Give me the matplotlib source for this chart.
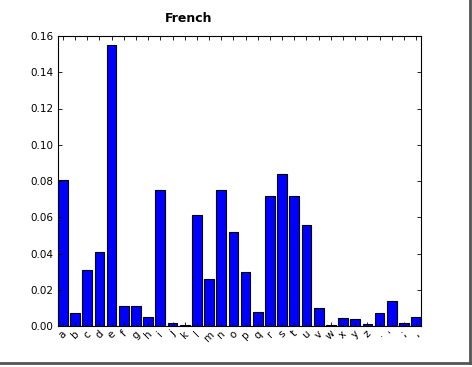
import matplotlib
matplotlib.use("Agg")
import matplotlib.pyplot as plt
from matplotlib.lines import Line2D

letters = list("abcdefghijklmnopqrstuvwxyz") + [".", "'", ";", ","]
freqs = [0.0805, 0.007, 0.031, 0.041, 0.155, 0.011, 0.011, 0.005, 0.075, 0.0015,
         0.0007, 0.061, 0.026, 0.075, 0.052, 0.030, 0.008, 0.072, 0.084, 0.072,
         0.056, 0.010, 0.0005, 0.0045, 0.004, 0.001, 0.007, 0.014, 0.0015, 0.005]

fig = plt.figure(figsize=(4.72, 3.67), dpi=100)
ax = fig.add_axes([58/472, 41/367, 363/472, 290/367])

pos = list(range(len(letters)))
ax.bar(pos, freqs, width=0.8, align='edge', color='#0000ff', edgecolor='black', linewidth=0.8)
ax.set_xlim(0, len(letters) - 0.2)
ax.set_ylim(0, 0.16)
ax.set_yticks([0.0, 0.02, 0.04, 0.06, 0.08, 0.10, 0.12, 0.14, 0.16])
ax.set_yticklabels(["%.2f" % v for v in ax.get_yticks()])
ax.set_xticks([p + 0.4 for p in pos])
ax.set_xticklabels(letters, rotation=45)
ax.tick_params(direction='in', top=True, right=True, labelsize=7.5, length=3, width=0.6)
ax.tick_params(axis='x', pad=2)
for s in ax.spines.values():
    s.set_linewidth(0.8)

fig.text(189/472, 1 - 18/367, "French", ha='center', va='center', fontsize=9, fontweight='bold')

# screenshot frame shadow at bottom and right
fig.add_artist(Line2D([0, 470/472], [1 - 363/367, 1 - 363/367], transform=fig.transFigure, color='#555555', linewidth=2))
fig.add_artist(Line2D([470/472, 470/472], [1 - 363/367, 1.0], transform=fig.transFigure, color='#555555', linewidth=2))

fig.savefig("out.png", dpi=100)
